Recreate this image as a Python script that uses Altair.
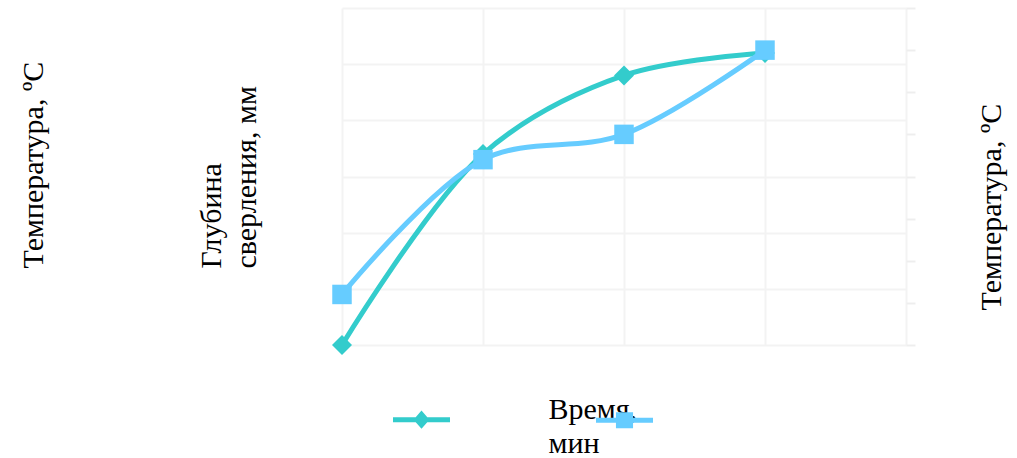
import altair as alt
import pandas as pd

# Drilling test: depth and temperature against time
time_min = [0, 1, 2, 3]
depth_mm = [0.0, 3.4, 4.8, 5.2]
temp_c = [12, 44, 50, 70]
series_names = ["Глубина сверления", "Температура"]

TEAL = "#33CCCC"
BLUE = "#66CCFF"
FONT = "Liberation Serif"
FS = 30

depth_df = pd.DataFrame({"t": time_min, "v": depth_mm})
temp_df = pd.DataFrame({"t": time_min, "v": temp_c})
legend_df = pd.DataFrame({"t": time_min * 2,
                          "v": depth_mm + temp_c,
                          "s": [series_names[0]] * 4 + [series_names[1]] * 4})

title_style = dict(titleFont=FONT, titleFontSize=FS, titleFontWeight="normal",
                   titleColor="#000000", titleBaseline="alphabetic")

x_axis = alt.Axis(title=["Время,", "мин"], labels=False, ticks=False,
                  domain=False, grid=True, values=[0, 1, 2, 3, 4],
                  gridColor="#F3F3F3", gridWidth=2,
                  titleAlign="left", titleLineHeight=34,
                  titleX=206, titleY=73, **title_style)
x_scale = alt.Scale(domain=[0, 4], nice=False)


def x_enc():
    return alt.X("t:Q", scale=x_scale, axis=x_axis)


depth_axis = alt.Axis(title=["Глубина", "сверления, мм"], orient="left", labels=False,
                      ticks=False, domain=False, grid=True, values=[0, 1, 2, 3, 4, 5, 6],
                      gridColor="#F3F3F3", gridWidth=2,
                      titleAngle=-90, titleAlign="left", titleLineHeight=35,
                      titleX=-122, titleY=260, **title_style)

temp_axis = alt.Axis(title="Температура, ºС", orient="right", labels=False,
                     ticks=True, tickSize=9, tickWidth=2, tickColor="#EEEEEE",
                     domain=False, grid=False, values=[0, 10, 20, 30, 40, 50, 60, 70, 80],
                     titleAngle=-90, titleAlign="left",
                     titleX=94, titleY=302, **title_style)

outer_axis = alt.Axis(title="Температура, ºС", orient="left", labels=False,
                      ticks=False, domain=False, grid=False,
                      titleAngle=-90, titleAlign="left",
                      titleX=-300, titleY=260, **title_style)

depth_scale = alt.Scale(domain=[0, 6], nice=False)
temp_scale = alt.Scale(domain=[0, 80], nice=False)

depth_y = alt.Y("v:Q", scale=depth_scale, axis=depth_axis)
temp_y = alt.Y("v:Q", scale=temp_scale, axis=temp_axis)

depth_line = alt.Chart(depth_df).mark_line(
    color=TEAL, strokeWidth=5, interpolate="catmull-rom", strokeCap="round"
).encode(x=x_enc(), y=depth_y)
depth_pts = alt.Chart(depth_df).mark_point(
    shape="diamond", filled=True, color=TEAL, size=400, opacity=1
).encode(x=x_enc(), y=depth_y)
depth_layer = alt.layer(depth_line, depth_pts)

temp_line = alt.Chart(temp_df).mark_line(
    color=BLUE, strokeWidth=5, interpolate="catmull-rom", strokeCap="round"
).encode(x=x_enc(), y=temp_y)
temp_pts = alt.Chart(temp_df).mark_point(
    shape="square", filled=True, color=BLUE, size=380, opacity=1
).encode(x=x_enc(), y=temp_y)
temp_layer = alt.layer(temp_line, temp_pts)

# Legend-only layer: invisible points carrying the series legend and outer title
line_diamond = ("M-1,-0.09 L1,-0.09 L1,0.09 L-1,0.09 Z "
                "M0,-0.32 L0.28,0 L0,0.32 L-0.28,0 Z")
line_square = ("M-1,-0.09 L1,-0.09 L1,0.09 L-1,0.09 Z "
               "M-0.3,-0.28 L0.3,-0.28 L0.3,0.28 L-0.3,0.28 Z")
legend_layer = alt.Chart(legend_df).mark_point(filled=True, opacity=0).encode(
    x=x_enc(),
    y=alt.Y("v:Q", scale=alt.Scale(domain=[0, 80], nice=False), axis=outer_axis),
    color=alt.Color("s:N", scale=alt.Scale(domain=series_names, range=[TEAL, BLUE]),
                    legend=alt.Legend(orient="none", legendX=51, legendY=383,
                                      direction="horizontal", columns=2, title=None,
                                      labelExpr="''", labelOffset=0, columnPadding=146,
                                      symbolSize=3249, symbolOpacity=1,
                                      symbolStrokeWidth=0, padding=0)),
    shape=alt.Shape("s:N", scale=alt.Scale(domain=series_names,
                                           range=[line_diamond, line_square]),
                    legend=None),
)

chart = alt.layer(depth_layer, temp_layer, legend_layer).resolve_scale(
    y="independent"
).properties(
    width=564, height=337,
    padding={"left": 342, "top": 8, "right": 111, "bottom": 113},
    autosize=alt.AutoSizeParams(type="none"),
    background="#FFFFFF",
).configure_view(stroke=None)

chart.save("out.html", embed_options={"renderer": "svg", "actions": False})
